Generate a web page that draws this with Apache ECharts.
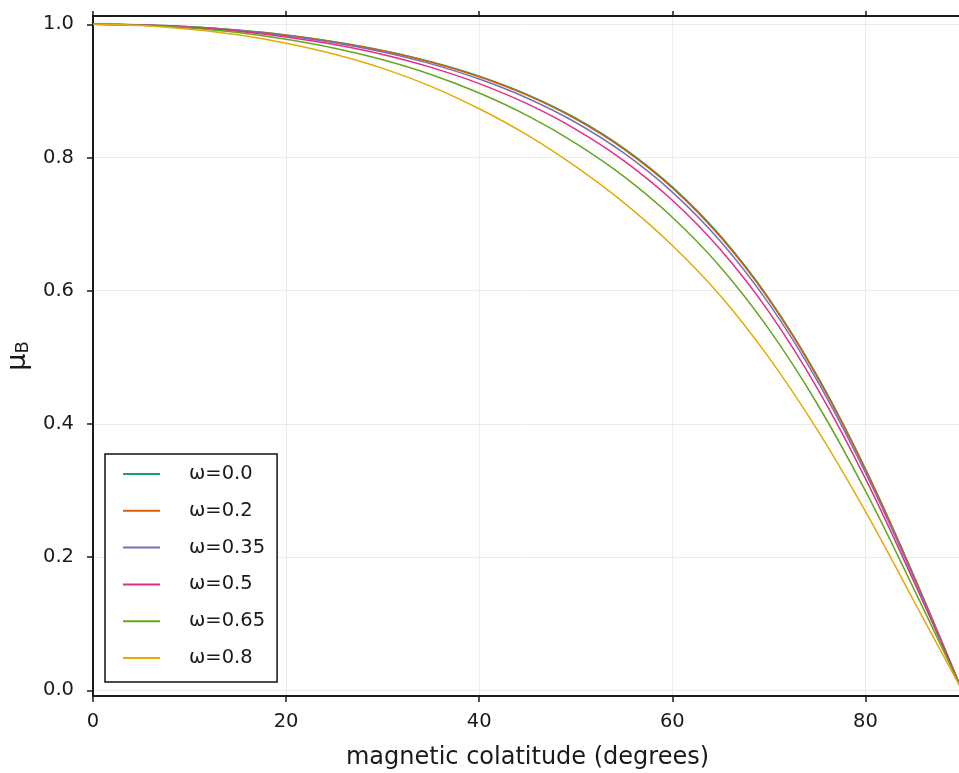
<!DOCTYPE html>
<html><head><meta charset="utf-8">
<script src="https://cdn.jsdelivr.net/npm/echarts@6/dist/echarts.min.js"></script>
<style>html,body{margin:0;padding:0;background:#fff}#c{width:959px;height:773px}</style>
</head><body><div id="c"></div>
<script>
// magnetic colatitude (degrees)
const colatitude = [0, 5, 10, 15, 20, 25, 30, 35, 40, 45, 50, 55, 60, 65, 70, 75, 80, 85, 90];
// mu_B for each omega
const mu_w000 = [1.0, 0.9991, 0.9961, 0.9912, 0.9839, 0.9739, 0.9608, 0.9438, 0.9221, 0.8944, 0.8591, 0.8138, 0.7559, 0.6820, 0.5885, 0.4724, 0.3326, 0.1724, 0.0];
const mu_w020 = [1.0, 0.9990, 0.9961, 0.9910, 0.9836, 0.9735, 0.9602, 0.9431, 0.9212, 0.8932, 0.8576, 0.8122, 0.7542, 0.6802, 0.5867, 0.4707, 0.3313, 0.1716, 0.0];
const mu_w035 = [1.0, 0.9990, 0.9958, 0.9905, 0.9827, 0.9722, 0.9583, 0.9405, 0.9177, 0.8889, 0.8525, 0.8064, 0.7480, 0.6739, 0.5805, 0.4651, 0.3268, 0.1689, 0.0];
const mu_w050 = [1.0, 0.9988, 0.9953, 0.9895, 0.9810, 0.9695, 0.9546, 0.9353, 0.9109, 0.8804, 0.8423, 0.7950, 0.7357, 0.6613, 0.5681, 0.4537, 0.3179, 0.1636, 0.0];
const mu_w065 = [1.0, 0.9985, 0.9943, 0.9875, 0.9774, 0.9640, 0.9467, 0.9246, 0.8967, 0.8627, 0.8211, 0.7712, 0.7102, 0.6352, 0.5422, 0.4302, 0.2993, 0.1526, 0.0];
const mu_w080 = [1.0, 0.9980, 0.9926, 0.9842, 0.9714, 0.9549, 0.9338, 0.9068, 0.8731, 0.8334, 0.7861, 0.7318, 0.6679, 0.5920, 0.4995, 0.3914, 0.2686, 0.1344, 0.0];
const seriesNames = ['ω=0.0', 'ω=0.2', 'ω=0.35', 'ω=0.5', 'ω=0.65', 'ω=0.8'];
const seriesValues = [mu_w000, mu_w020, mu_w035, mu_w050, mu_w065, mu_w080];
const xTicks = [0, 20, 40, 60, 80];
const yTicks = [0, 0.2, 0.4, 0.6, 0.8, 1.0];

const colors = ['#1b9e77', '#d95f02', '#7570b3', '#e7298a', '#66a61e', '#e6ab02'];
const FONT = 'DejaVu Sans';
const ink = '#1a1a1a';

const chart = echarts.init(document.getElementById('c'), null, {renderer: 'canvas'});
const series = seriesNames.map((n, i) => ({
  name: n, type: 'line', smooth: 0.4, symbol: 'none', showSymbol: false,
  data: colatitude.map((x, j) => [x, seriesValues[i][j]]),
  lineStyle: {color: colors[i], width: 1.5},
  itemStyle: {color: colors[i]},
  emphasis: {disabled: true}, animation: false, z: 2 + i
}));

chart.setOption({
  backgroundColor: '#fff',
  animation: false,
  color: colors,
  grid: {left: 93, right: -3, top: 16, bottom: 77, containLabel: false, outerBoundsMode: 'none'},
  legend: {
    orient: 'vertical', left: 105, top: 454,
    icon: 'rect', itemWidth: 37, itemHeight: 2, itemGap: 16.8,
    padding: [10, 12, 14, 18],
    borderColor: '#111', borderWidth: 1.5, backgroundColor: '#fff',
    textStyle: {fontFamily: FONT, fontSize: 19.5, color: ink, lineHeight: 20, width: 76, padding: [0, 0, 0, 24]},
    data: seriesNames
  },
  xAxis: [{
    type: 'value', min: 0, max: 90, position: 'bottom',
    axisLine: {show: true, onZero: false, lineStyle: {color: ink, width: 2}},
    axisTick: {show: true, length: 6, customValues: xTicks, lineStyle: {color: ink, width: 1.5}},
    axisLabel: {customValues: xTicks, margin: 16, fontFamily: FONT, fontSize: 19.5, color: ink},
    splitLine: {show: true, lineStyle: {color: '#ececec', width: 1}},
    name: 'magnetic colatitude (degrees)', nameLocation: 'middle', nameGap: 50,
    nameTextStyle: {fontFamily: FONT, fontSize: 24, color: ink}
  }, {
    type: 'value', min: 0, max: 90, position: 'top',
    axisLine: {show: true, onZero: false, lineStyle: {color: ink, width: 2}},
    axisTick: {show: true, length: 5, customValues: xTicks, lineStyle: {color: ink, width: 1.5}},
    axisLabel: {show: false},
    splitLine: {show: false}
  }],
  yAxis: [{
    type: 'value', min: -0.0086, max: 1.0124, position: 'left',
    axisLine: {show: true, onZero: false, lineStyle: {color: ink, width: 2}},
    axisTick: {show: true, length: 6, customValues: yTicks, lineStyle: {color: ink, width: 1.5}},
    axisLabel: {customValues: yTicks, margin: 19, fontFamily: FONT, fontSize: 19.5, color: ink,
      formatter: v => Number(v).toFixed(1)},
    splitLine: {show: true, lineStyle: {color: '#ececec', width: 1}},
    name: '{a|μ}{b|B}', nameLocation: 'middle', nameGap: 58, nameRotate: 90,
    nameTextStyle: {fontFamily: FONT, color: ink,
      rich: {a: {fontFamily: FONT, fontSize: 27, color: ink},
             b: {fontFamily: FONT, fontSize: 18, color: ink, padding: [11, 0, 0, 0]}}}
  }],
  series: series
});
</script></body></html>
